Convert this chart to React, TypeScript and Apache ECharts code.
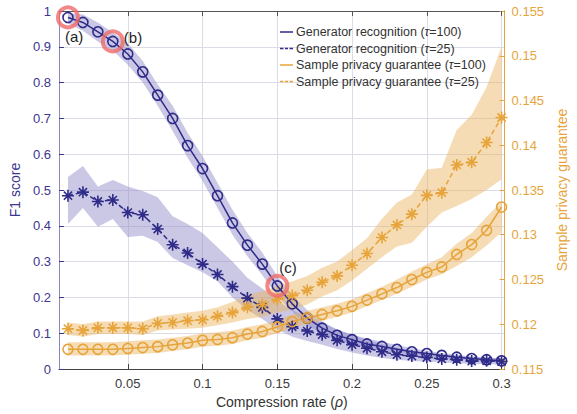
import React, { useEffect, useRef } from "react";
import * as echarts from "echarts";

const xs = [0.01, 0.02, 0.03, 0.04, 0.05, 0.06, 0.07, 0.08, 0.09, 0.1, 0.11, 0.12, 0.13, 0.14, 0.15, 0.16, 0.17, 0.18, 0.19, 0.2, 0.21, 0.22, 0.23, 0.24, 0.25, 0.26, 0.27, 0.28, 0.29, 0.3];
const xTicks = [0.05, 0.1, 0.15, 0.2, 0.25, 0.3];

const genT100 = [0.982, 0.968, 0.942, 0.915, 0.88, 0.83, 0.765, 0.7, 0.624, 0.56, 0.484, 0.408, 0.346, 0.293, 0.232, 0.182, 0.142, 0.114, 0.094, 0.082, 0.07, 0.063, 0.055, 0.048, 0.043, 0.038, 0.033, 0.029, 0.026, 0.023];
const genT100Lo = [0.965, 0.945, 0.915, 0.89, 0.85, 0.8, 0.735, 0.665, 0.59, 0.525, 0.45, 0.375, 0.315, 0.262, 0.205, 0.16, 0.122, 0.097, 0.08, 0.068, 0.058, 0.051, 0.045, 0.04, 0.035, 0.031, 0.027, 0.024, 0.021, 0.019];
const genT100Hi = [0.995, 0.99, 0.968, 0.94, 0.91, 0.86, 0.795, 0.735, 0.66, 0.595, 0.52, 0.445, 0.38, 0.325, 0.26, 0.205, 0.165, 0.133, 0.11, 0.096, 0.085, 0.076, 0.067, 0.058, 0.051, 0.045, 0.04, 0.035, 0.032, 0.029];

const genT25 = [0.484, 0.494, 0.468, 0.472, 0.437, 0.431, 0.391, 0.347, 0.324, 0.293, 0.264, 0.23, 0.198, 0.172, 0.14, 0.118, 0.106, 0.096, 0.08, 0.068, 0.058, 0.048, 0.04, 0.036, 0.032, 0.028, 0.026, 0.022, 0.023, 0.021];
const genT25Lo = [0.405, 0.45, 0.397, 0.419, 0.369, 0.372, 0.355, 0.31, 0.29, 0.27, 0.245, 0.2, 0.165, 0.14, 0.11, 0.09, 0.078, 0.068, 0.056, 0.046, 0.038, 0.031, 0.026, 0.022, 0.02, 0.018, 0.016, 0.014, 0.014, 0.012];
const genT25Hi = [0.536, 0.567, 0.51, 0.528, 0.51, 0.497, 0.48, 0.427, 0.405, 0.38, 0.34, 0.3, 0.255, 0.225, 0.19, 0.165, 0.145, 0.128, 0.11, 0.095, 0.082, 0.07, 0.06, 0.052, 0.046, 0.041, 0.037, 0.033, 0.032, 0.03];

const privT100 = [0.1172, 0.1172, 0.1172, 0.1172, 0.1173, 0.1174, 0.1175, 0.1177, 0.1179, 0.1182, 0.1183, 0.1185, 0.1189, 0.1192, 0.1197, 0.1203, 0.1207, 0.1211, 0.1215, 0.122, 0.1227, 0.1234, 0.1241, 0.125, 0.1258, 0.1264, 0.1278, 0.1289, 0.1305, 0.1331];
const privT100Lo = [0.1165, 0.1165, 0.1165, 0.1165, 0.1166, 0.1167, 0.1168, 0.117, 0.1172, 0.1175, 0.1176, 0.1178, 0.1182, 0.1185, 0.119, 0.1196, 0.12, 0.1204, 0.1208, 0.1213, 0.122, 0.1227, 0.1234, 0.1242, 0.125, 0.1256, 0.1265, 0.1275, 0.1288, 0.1303];
const privT100Hi = [0.118, 0.118, 0.118, 0.118, 0.1181, 0.1182, 0.1183, 0.1185, 0.1187, 0.119, 0.1191, 0.1193, 0.1197, 0.12, 0.1205, 0.1211, 0.1215, 0.1219, 0.1223, 0.1228, 0.1235, 0.1242, 0.125, 0.1259, 0.1267, 0.1275, 0.129, 0.1302, 0.132, 0.1337];

const privT25 = [0.1195, 0.1193, 0.1196, 0.1196, 0.1196, 0.1195, 0.1201, 0.1202, 0.1204, 0.1205, 0.1209, 0.1213, 0.1219, 0.1222, 0.1228, 0.1232, 0.1238, 0.1247, 0.1254, 0.1266, 0.1279, 0.1297, 0.1311, 0.1323, 0.1344, 0.1347, 0.1378, 0.1381, 0.1403, 0.1431];
const privT25Lo = [0.1188, 0.1186, 0.1189, 0.1189, 0.1189, 0.1188, 0.1193, 0.1194, 0.1195, 0.1196, 0.1199, 0.1202, 0.1206, 0.1208, 0.1213, 0.1216, 0.1222, 0.1231, 0.1238, 0.1249, 0.1262, 0.1275, 0.1287, 0.1291, 0.1309, 0.1325, 0.1332, 0.134, 0.135, 0.1362];
const privT25Hi = [0.1202, 0.12, 0.1203, 0.1203, 0.1203, 0.1203, 0.1209, 0.1211, 0.1213, 0.1215, 0.1219, 0.1225, 0.1233, 0.1237, 0.1243, 0.1248, 0.1254, 0.1263, 0.127, 0.1283, 0.1296, 0.1318, 0.1336, 0.1345, 0.1373, 0.1375, 0.1417, 0.1434, 0.1465, 0.151];

const seriesNames = [
  "Generator recognition (τ=100)",
  "Generator recognition (τ=25)",
  "Sample privacy guarantee (τ=100)",
  "Sample privacy guarantee (τ=25)",
];
const highlightIdx = [0, 3, 14];
const highlightLabels = ["(a)", "(b)", "(c)"];

const NAVY = "#2f2b88";
const ORANGE = "#e6a43b";
const PURPLE_BAND = "rgba(140,132,200,0.45)";
const ORANGE_BAND = "rgba(236,178,88,0.45)";
const FONT = "'Liberation Sans', Arial, Helvetica, sans-serif";
const STAR = "path://M5,0L5,10M0,5L10,5M1.6,1.6L8.4,8.4M1.6,8.4L8.4,1.6";
const SERIES_COLORS = [NAVY, NAVY, ORANGE, ORANGE];

const pairs = (ys: number[]) => xs.map((x, i) => [x, ys[i]]);

function band(id: string, lo: number[], hi: number[], yAxisIndex: number, color: string) {
  return {
    type: "custom",
    name: id,
    yAxisIndex,
    silent: true,
    z: 1,
    data: [[xs[0], lo[0]]],
    renderItem: (_params: any, api: any) => {
      const top = xs.map((x, i) => api.coord([x, hi[i]]));
      const bottom = xs.map((x, i) => api.coord([x, lo[i]])).reverse();
      return {
        type: "polygon",
        shape: { points: top.concat(bottom) },
        style: { fill: color, stroke: "none" },
      };
    },
  };
}

export default function App() {
  const ref = useRef<HTMLDivElement>(null);
  useEffect(() => {
    if (!ref.current) return;
    const chart = echarts.init(ref.current, null, { renderer: "svg" });
    const labelRich = { i: { fontStyle: "italic", fontFamily: FONT, fontSize: 12.5, color: "#333" } };
    chart.setOption({
      animation: false,
      backgroundColor: "#fff",
      textStyle: { fontFamily: FONT },
      grid: { left: 59, right: 72, top: 11, bottom: 45 },
      legend: {
        data: seriesNames.map((n, i) => ({
          name: n,
          icon: i % 2 === 0 ? "path://M0,0H26V3H0Z" : "path://M0,0H7V3H0Z M10,0H16V3H10Z M19,0H26V3H19Z",
          itemStyle: { color: SERIES_COLORS[i], borderWidth: 0 },
        })),
        orient: "vertical",
        left: 280,
        top: 25,
        itemWidth: 13,
        itemHeight: 1.5,
        itemGap: 2.5,
        padding: 0,
        selectedMode: false,
        textStyle: { fontSize: 12.5, color: "#333", fontFamily: FONT, lineHeight: 14, rich: labelRich, padding: [0, 0, 0, -2] },
        formatter: (name: string) => name.replace("τ", "{i|τ}"),
      },
      xAxis: [
        {
          type: "value", min: 0.004, max: 0.302, position: "bottom",
          name: "{n|Compression rate (}{i|ρ}{n|)}",
          nameLocation: "middle", nameGap: 22,
          nameTextStyle: {
            rich: {
              n: { fontSize: 14, color: "#333", fontFamily: FONT },
              i: { fontSize: 14, color: "#333", fontFamily: FONT, fontStyle: "italic" },
            },
          },
          axisLine: { show: true, lineStyle: { color: "#444", width: 1 } },
          axisTick: { show: true, inside: true, length: 5, customValues: xTicks, lineStyle: { color: "#444" } },
          axisLabel: { customValues: xTicks, color: "#3a3a3a", fontSize: 13, margin: 8, fontFamily: FONT },
          splitLine: { show: true, lineStyle: { color: "#dcdce8", width: 1 } },
        },
        {
          type: "value", min: 0.004, max: 0.302, position: "top",
          axisLine: { show: true, lineStyle: { color: "#555", width: 1 } },
          axisTick: { show: true, inside: true, length: 5, customValues: xTicks, lineStyle: { color: "#555" } },
          axisLabel: { show: false },
          splitLine: { show: false },
        },
      ],
      yAxis: [
        {
          type: "value", min: 0, max: 1, interval: 0.1, position: "left",
          name: "F1 score", nameLocation: "middle", nameGap: 31, nameRotate: 90,
          nameTextStyle: { fontSize: 14, color: "#3b3790", fontFamily: FONT },
          axisLine: { show: true, lineStyle: { color: "#8a87c0", width: 1 } },
          axisTick: { show: true, inside: true, length: 5, lineStyle: { color: "#3b3790" } },
          axisLabel: { color: "#3b3790", fontSize: 13, margin: 8, fontFamily: FONT },
          splitLine: { show: true, lineStyle: { color: "#dcdce8", width: 1 } },
        },
        {
          type: "value", min: 0.115, max: 0.155, interval: 0.005, position: "right",
          name: "Sample privacy guarantee", nameLocation: "middle", nameGap: 47, nameRotate: 90,
          nameTextStyle: { fontSize: 14, color: ORANGE, fontFamily: FONT },
          axisLine: { show: true, lineStyle: { color: ORANGE, width: 1 } },
          axisTick: { show: true, inside: true, length: 5, lineStyle: { color: ORANGE } },
          axisLabel: { color: ORANGE, fontSize: 13, margin: 7, fontFamily: FONT },
          splitLine: { show: false },
        },
      ],
      series: [
        band("b1", genT100Lo, genT100Hi, 0, PURPLE_BAND),
        band("b2", genT25Lo, genT25Hi, 0, PURPLE_BAND),
        band("b3", privT100Lo, privT100Hi, 1, ORANGE_BAND),
        band("b4", privT25Lo, privT25Hi, 1, ORANGE_BAND),
        {
          type: "line", name: seriesNames[0], yAxisIndex: 0, data: pairs(genT100),
          symbol: "circle", symbolSize: 10, z: 3,
          lineStyle: { color: NAVY, width: 1.5 },
          itemStyle: { color: "transparent", borderColor: NAVY, borderWidth: 1.6 },
        },
        {
          type: "line", name: seriesNames[1], yAxisIndex: 0, data: pairs(genT25),
          symbol: STAR, symbolSize: 12, z: 3,
          lineStyle: { color: NAVY, width: 1.5, type: [5, 3] },
          itemStyle: { color: NAVY, borderColor: NAVY, borderWidth: 1.6 },
        },
        {
          type: "line", name: seriesNames[2], yAxisIndex: 1, data: pairs(privT100),
          symbol: "circle", symbolSize: 10, z: 3,
          lineStyle: { color: ORANGE, width: 1.5 },
          itemStyle: { color: "transparent", borderColor: ORANGE, borderWidth: 1.6 },
        },
        {
          type: "line", name: seriesNames[3], yAxisIndex: 1, data: pairs(privT25),
          symbol: STAR, symbolSize: 12, z: 3,
          lineStyle: { color: ORANGE, width: 1.5, type: [5, 3] },
          itemStyle: { color: ORANGE, borderColor: ORANGE, borderWidth: 1.6 },
        },
        {
          type: "scatter", name: "highlight", yAxisIndex: 0, z: 4,
          symbol: "circle", symbolSize: 20,
          itemStyle: { color: "transparent", borderColor: "#ee6b6b", borderWidth: 4 },
          data: highlightIdx.map((k, j) => ({
            value: [xs[k], genT100[k]],
            label: {
              show: true,
              formatter: highlightLabels[j],
              position: j === 0 ? [9, 24] : j === 1 ? [23, 1] : [14, -14],
              fontSize: 15, color: "#1e1e1e", fontFamily: FONT,
              textBorderWidth: 0, textBorderColor: "transparent", opacity: 1,
            },
          })),
        },
      ],
    });
    return () => chart.dispose();
  }, []);
  return <div ref={ref} style={{ position: "fixed", left: 0, top: 0, width: 577, height: 414 }} />;
}
